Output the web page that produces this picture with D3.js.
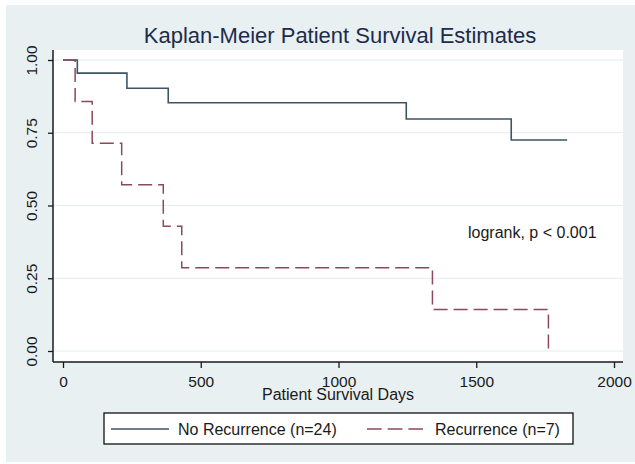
<!DOCTYPE html>
<html>
<head>
<meta charset="utf-8">
<script src="https://cdn.jsdelivr.net/npm/d3@7"></script>
<style>
  html, body { margin: 0; padding: 0; background: #ffffff; }
  text { font-family: "Liberation Sans", Arial, sans-serif; }
</style>
</head>
<body>
<svg id="chart" width="635" height="464"></svg>
<script>
// ---- data ----
const chartTitle = "Kaplan-Meier Patient Survival Estimates";
const xAxisTitle = "Patient Survival Days";
const annotation = "logrank, p < 0.001";

const xTicks = [0, 500, 1000, 1500, 2000];
const yTicks = [0, 0.25, 0.5, 0.75, 1];

const seriesNames = ["No Recurrence (n=24)", "Recurrence (n=7)"];

const noRecurrenceDays = [0, 52, 232, 382, 1246, 1627, 1830];
const noRecurrenceSurv = [1.0, 0.955, 0.903, 0.853, 0.797, 0.725, 0.725];

const recurrenceDays = [0, 44, 106, 213, 364, 431, 1341, 1762, 1762];
const recurrenceSurv = [1.0, 0.857, 0.714, 0.571, 0.429, 0.286, 0.143, 0.0, 0.0];

// ---- drawing ----
const svg = d3.select("#chart");
const W = 635, H = 464;

// outer graph region
svg.append("rect").attr("x", 6).attr("y", 5).attr("width", W - 6).attr("height", 457)
  .attr("fill", "#e8f0f2");

// plot region
const plotL = 53, plotR = 623, plotT = 50, plotB = 362;
svg.append("rect").attr("x", plotL).attr("y", plotT)
  .attr("width", plotR - plotL).attr("height", plotB - plotT).attr("fill", "#ffffff");

const x = d3.scaleLinear().domain([0, 2000]).range([63, 614]);
const y = d3.scaleLinear().domain([0, 1]).range([351, 60]);

// gridlines
svg.append("g").selectAll("line").data(yTicks).join("line")
  .attr("x1", plotL + 1).attr("x2", plotR)
  .attr("y1", d => y(d)).attr("y2", d => y(d))
  .attr("stroke", "#e4ecef").attr("stroke-width", 1.2);

// y axis
const yAxis = d3.axisLeft(y).tickValues(yTicks).tickFormat(d3.format(".2f"))
  .tickSize(5).tickPadding(0);
const gy = svg.append("g").attr("transform", `translate(${plotL},0)`).call(yAxis);
gy.select(".domain").remove();
gy.append("line").attr("x1", 0).attr("x2", 0).attr("y1", plotT).attr("y2", plotB)
  .attr("stroke", "#1a1a1a").attr("stroke-width", 1.5);
gy.selectAll(".tick line").attr("stroke", "#1a1a1a").attr("stroke-width", 1.3);
gy.selectAll(".tick text")
  .attr("text-anchor", "middle")
  .attr("font-size", "15.5px").attr("fill", "#1a1a1a")
  .attr("font-family", "'Liberation Sans', Arial, sans-serif")
  .attr("transform", "translate(-22,0) rotate(-90)")
  .attr("x", 0).attr("y", 0).attr("dy", "0.36em");

// x axis
const xAxis = d3.axisBottom(x).tickValues(xTicks).tickFormat(d3.format("d"))
  .tickSize(6).tickPadding(8);
const gx = svg.append("g").attr("transform", `translate(0,${plotB})`).call(xAxis);
gx.select(".domain").remove();
gx.append("line").attr("x1", plotL).attr("x2", plotR).attr("y1", 0).attr("y2", 0)
  .attr("stroke", "#1a1a1a").attr("stroke-width", 1.5);
gx.selectAll(".tick line").attr("stroke", "#1a1a1a").attr("stroke-width", 1.3);
gx.selectAll(".tick text").attr("font-size", "15.5px").attr("fill", "#1a1a1a")
  .attr("font-family", "'Liberation Sans', Arial, sans-serif");

// axis title
svg.append("text").attr("x", 338).attr("y", 400).attr("text-anchor", "middle")
  .attr("font-size", "16px").attr("fill", "#1a1a1a").text(xAxisTitle);

// title
svg.append("text").attr("x", 340).attr("y", 43).attr("text-anchor", "middle")
  .attr("font-size", "22px").attr("fill", "#1e2b4a").text(chartTitle);

// curves
const line = d3.line().x(d => x(d[0])).y(d => y(d[1])).curve(d3.curveStepAfter);
const noRec = noRecurrenceDays.map((d, i) => [d, noRecurrenceSurv[i]]);
const rec = recurrenceDays.map((d, i) => [d, recurrenceSurv[i]]);

const blue = "#3e5465", red = "#8a4a5a";
svg.append("path").datum(noRec).attr("d", line)
  .attr("fill", "none").attr("stroke", blue).attr("stroke-width", 1.6);
svg.append("path").datum(rec).attr("d", line)
  .attr("fill", "none").attr("stroke", red).attr("stroke-width", 1.5)
  .attr("stroke-dasharray", "14,6");

// annotation
svg.append("text").attr("x", 468).attr("y", 238)
  .attr("font-size", "16px").attr("fill", "#1a1a1a").text(annotation);

// legend
const lg = svg.append("g");
lg.append("rect").attr("x", 104).attr("y", 413).attr("width", 469).attr("height", 31)
  .attr("fill", "#ffffff").attr("stroke", "#111111").attr("stroke-width", 1.3);
lg.append("line").attr("x1", 111).attr("x2", 169).attr("y1", 429).attr("y2", 429)
  .attr("stroke", blue).attr("stroke-width", 1.6);
lg.append("text").attr("x", 178).attr("y", 434.5).attr("font-size", "16px")
  .attr("fill", "#1a1a1a").text(seriesNames[0]);
lg.append("line").attr("x1", 367).attr("x2", 423).attr("y1", 429).attr("y2", 429)
  .attr("stroke", red).attr("stroke-width", 1.5).attr("stroke-dasharray", "14.7,6");
lg.append("text").attr("x", 435).attr("y", 434.5).attr("font-size", "16px")
  .attr("fill", "#1a1a1a").text(seriesNames[1]);
</script>
</body>
</html>
